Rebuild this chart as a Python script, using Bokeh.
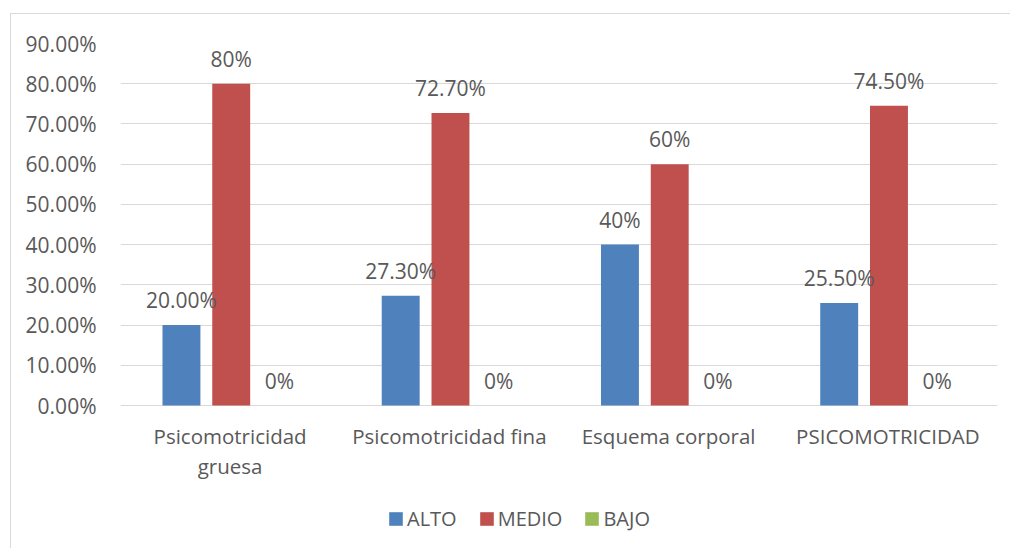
from bokeh.plotting import figure
from bokeh.models import (ColumnDataSource, FactorRange, Range1d, NumeralTickFormatter,
                          LabelSet, Legend, LegendItem, FixedTicker)
from bokeh.core.properties import value
from bokeh.transform import dodge
from bokeh.embed import file_html
from bokeh.resources import INLINE

categories = ["Psicomotricidad\ngruesa", "Psicomotricidad fina", "Esquema corporal", "PSICOMOTRICIDAD"]
alto = [0.20, 0.273, 0.40, 0.255]
medio = [0.80, 0.727, 0.60, 0.745]
bajo = [0.0, 0.0, 0.0, 0.0]
alto_labels = ["20.00%", "27.30%", "40%", "25.50%"]
medio_labels = ["80%", "72.70%", "60%", "74.50%"]
bajo_labels = ["0%", "0%", "0%", "0%"]
series_names = ["ALTO", "MEDIO", "BAJO"]
y_ticks = [0.0, 0.1, 0.2, 0.3, 0.4, 0.5, 0.6, 0.7, 0.8, 0.9]

FONT = "Open Sans"
TXT = "#595959"
GRID = "#d9d9d9"

# layout (pixels)
FIG_W, FIG_H = 1000, 535
TOP, LEFT, RIGHT = 29, 109, 14
VALUE_PX = 362          # pixel height of the 0..90% band
frame_h = FIG_H - TOP
y_max = y_ticks[-1]
y_min = y_max - y_max * frame_h / VALUE_PX

line1 = [c.split("\n")[0] for c in categories]
line2 = [c.split("\n")[1] if "\n" in c else "" for c in categories]

src = ColumnDataSource(dict(cat=categories, alto=alto, medio=medio, bajo=bajo,
                            la=alto_labels, lm=medio_labels, lb=bajo_labels,
                            l1=line1, l2=line2, base=[0.0] * len(categories)))

p = figure(x_range=FactorRange(*categories, range_padding=0), y_range=Range1d(y_min, y_max),
           width=FIG_W, height=FIG_H, output_backend="svg", toolbar_location=None,
           min_border_left=LEFT, min_border_right=RIGHT, min_border_top=TOP, min_border_bottom=0,
           styles={"margin-left": "10px", "margin-top": "13px",
                   "border-left": "1px solid #d9d9d9", "border-top": "1px solid #d9d9d9"})
p.outline_line_color = None

W = 0.173
cols = [("alto", "#4F81BD", -0.222, "la"), ("medio", "#C0504D", 0.005, "lm"), ("bajo", "#9BBB59", 0.225, "lb")]
renderers = []
for (field, color, off, lab) in cols:
    r = p.vbar(x=dodge("cat", off, range=p.x_range), top=field, bottom=0, width=W, source=src,
               fill_color=color, line_color=None)
    renderers.append(r)
    ls = LabelSet(x=dodge("cat", off, range=p.x_range), y=field, text=lab, source=src,
                  text_align="center", text_baseline="alphabetic", y_offset=17,
                  text_font=value(FONT), text_font_size=value("21px"), text_color=value(TXT))
    p.add_layout(ls)

# category labels below the zero line (two centred lines)
for col, off in (("l1", -16), ("l2", -46)):
    cl = LabelSet(x="cat", y="base", text=col, source=src,
                  text_align="center", text_baseline="top", y_offset=off,
                  text_font=value(FONT), text_font_size=value("20.5px"), text_color=value(TXT))
    p.add_layout(cl)

p.yaxis.ticker = FixedTicker(ticks=y_ticks)
p.yaxis.formatter = NumeralTickFormatter(format="0.00%")
p.yaxis.axis_line_color = None
p.yaxis.major_tick_line_color = None
p.yaxis.minor_tick_line_color = None
p.yaxis.major_label_standoff = 18
p.yaxis.major_label_text_font = FONT
p.yaxis.major_label_text_font_size = "21px"
p.yaxis.major_label_text_color = TXT

p.xaxis.visible = False
p.xgrid.grid_line_color = None
p.ygrid.grid_line_color = GRID
p.ygrid.grid_line_width = 1

legend = Legend(items=[LegendItem(label=n, renderers=[r]) for n, r in zip(series_names, renderers)],
                orientation="horizontal", location=(267, 17),
                glyph_width=17, glyph_height=17, label_standoff=3, spacing=21,
                padding=0, margin=0, border_line_color=None, background_fill_alpha=0,
                label_text_font=FONT, label_text_font_size="20px", label_text_color=TXT)
p.add_layout(legend, "center")

open("out.html", "w").write(file_html(p, INLINE))
